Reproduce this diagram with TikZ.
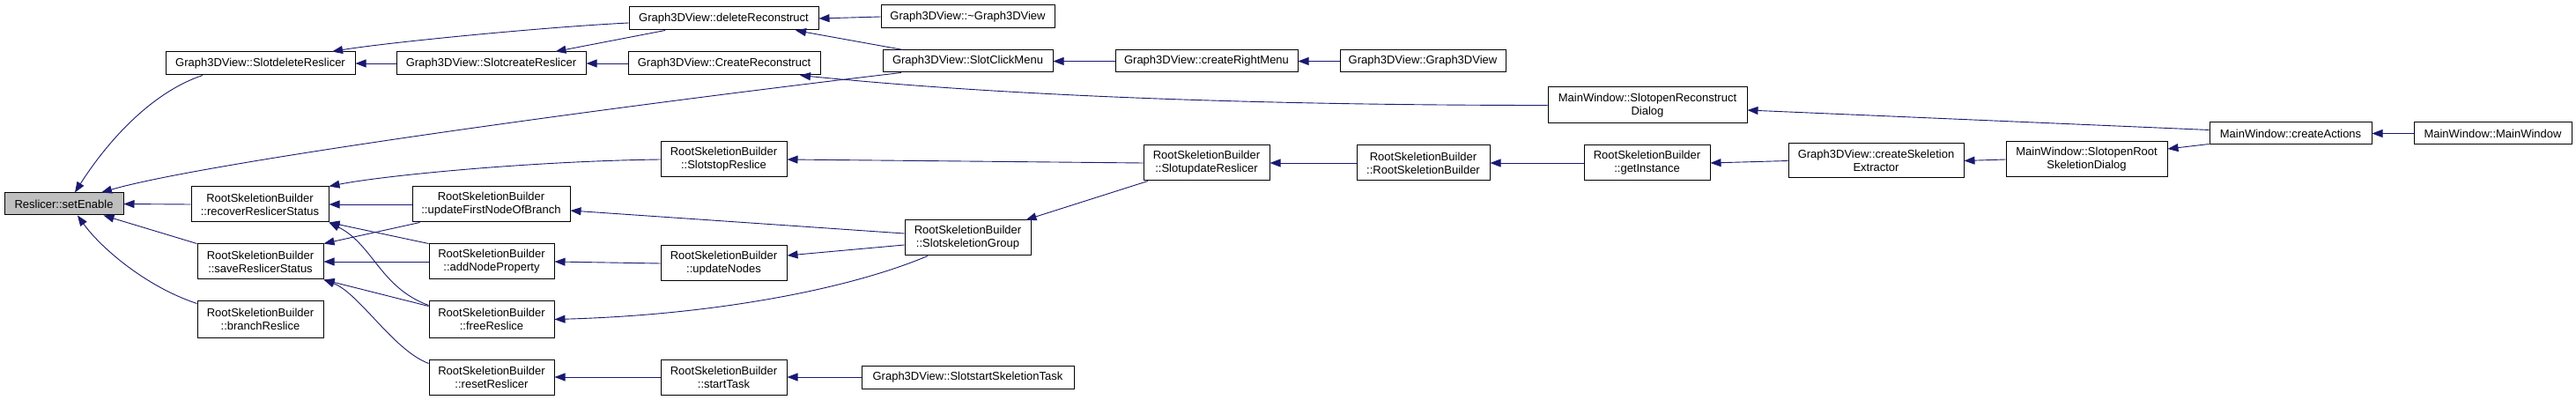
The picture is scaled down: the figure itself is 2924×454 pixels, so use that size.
\documentclass[tikz,border=0pt]{standalone}
\usepackage{fontspec}
\setmainfont{Liberation Sans}
\usetikzlibrary{arrows.meta,calc}
\definecolor{callblue}{RGB}{25,25,112}
\definecolor{rootgray}{RGB}{191,191,191}

\begin{document}
\begin{tikzpicture}[x=1pt,y=-1pt,
  fn/.style={draw=black,fill=white,line width=1pt,inner sep=0pt,align=center,
    font=\fontsize{13}{15}\selectfont},
  call/.style={draw=callblue,line width=0.9pt,{Triangle[length=12pt,width=9pt]}-}]
  \useasboundingbox (0,0) rectangle (2924,454);
  % the function itself
  \node[fn,fill=rootgray,minimum width=135,minimum height=25] (setEnable) at (72.5,231.5) {Reslicer::setEnable};
  % callers: name/centre x/centre y/width/height/label
  \foreach \nm/\cx/\cy/\bw/\bh/\txt in {
    slotDel/295.5/72/215/26/{Graph3DView::SlotdeleteReslicer},
    recover/295/232/156/40/{RootSkeletionBuilder\\::recoverReslicerStatus},
    save/295.5/297/143/40/{RootSkeletionBuilder\\::saveReslicerStatus},
    branch/295.5/362.5/143/41/{RootSkeletionBuilder\\::branchReslice},
    slotCreate/557.5/72/215/26/{Graph3DView::SlotcreateReslicer},
    updFirst/557.5/232/179/40/{RootSkeletionBuilder\\::updateFirstNodeOfBranch},
    addNode/558/297/142/40/{RootSkeletionBuilder\\::addNodeProperty},
    freeRes/558/362.5/142/41/{RootSkeletionBuilder\\::freeReslice},
    resetRes/558/428/142/40/{RootSkeletionBuilder\\::resetReslicer},
    delRecon/821.5/21/215/26/{Graph3DView::deleteReconstruct},
    createRecon/822/72/218/26/{Graph3DView::CreateReconstruct},
    stopRes/821.5/181/143/40/{RootSkeletionBuilder\\::SlotstopReslice},
    updNodes/821.5/299/143/40/{RootSkeletionBuilder\\::updateNodes},
    startTask/821.5/428/143/40/{RootSkeletionBuilder\\::startTask},
    dtor/1098.5/19/197/26/{Graph3DView::\textasciitilde Graph3DView},
    clickMenu/1098.5/69.5/193/25/{Graph3DView::SlotClickMenu},
    skelGroup/1098.5/270/143/40/{RootSkeletionBuilder\\::SlotskeletionGroup},
    slotStart/1098.5/428/241/26/{Graph3DView::SlotstartSkeletionTask},
    rightMenu/1369.5/69.5/207/25/{Graph3DView::createRightMenu},
    updRes/1369.5/185/143/40/{RootSkeletionBuilder\\::SlotupdateReslicer},
    viewCtor/1615/69.5/188/25/{Graph3DView::Graph3DView},
    rsbCtor/1615.5/185/151/40/{RootSkeletionBuilder\\::RootSkeletionBuilder},
    openRecon/1870/119.5/226/41/{MainWindow::SlotopenReconstruct\\Dialog},
    getInst/1869.5/185/143/40/{RootSkeletionBuilder\\::getInstance},
    extractor/2129.5/182.5/199/39/{Graph3DView::createSkeletion\\Extractor},
    openRoot/2368.5/181/183/40/{MainWindow::SlotopenRoot\\SkeletionDialog},
    actions/2600/151.5/184/25/{MainWindow::createActions},
    mainWin/2829.5/151.5/179/25/{MainWindow::MainWindow}}{
    \node[fn,minimum width=\bw,minimum height=\bh] (\nm) at (\cx,\cy) {\txt};
  }
  % into Reslicer::setEnable
  \draw[call] ([xshift=12.5pt]setEnable.north) .. controls +(35,-55) and +(-60,20) .. ([xshift=-65.5pt]slotDel.south);
  \draw[call] ([xshift=42.5pt]setEnable.north) .. controls +(120,-35) and +(-300,35) .. ([xshift=-75.5pt]clickMenu.south);
  \draw[call] (setEnable.east) -- (recover.west);
  \draw[call] ([xshift=45pt]setEnable.south) -- (save.north west);
  \draw[call] ([xshift=15.5pt]setEnable.south) .. controls +(25,35) and +(-60,-20) .. ([yshift=-3pt]branch.north west);
  % second rank
  \draw[call] (slotDel.east) -- (slotCreate.west);
  \draw[call] ([xshift=81.5pt]slotDel.north) .. controls +(60,-10) and +(-100,5) .. ([yshift=-5pt]delRecon.west);
  \draw[call] (recover.north east) .. controls +(60,-12) and +(-150,2) .. (stopRes.west);
  \draw[call] (recover.east) -- (updFirst.west);
  \draw[call] (recover.south east) -- (addNode.north west);
  \draw[call] (recover.south east) .. controls +(50,25) and +(-55,-20) .. ([yshift=-5pt]freeRes.north west);
  \draw[call] (save.north east) -- ([xshift=9pt]updFirst.south west);
  \draw[call] (save.east) -- (addNode.west);
  \draw[call] (save.south east) -- ([yshift=-6pt]freeRes.north west);
  \draw[call] (save.south east) .. controls +(40,15) and +(-40,-15) .. ([yshift=-5pt]resetRes.north west);
  % third rank
  \draw[call] (slotCreate.east) -- (createRecon.west);
  \draw[call] ([xshift=73pt]slotCreate.north) -- ([xshift=-66.5pt]delRecon.south);
  \draw[call] ([yshift=-7pt]updFirst.east) -- ([yshift=5pt]skelGroup.west);
  \draw[call] (addNode.east) -- (updNodes.west);
  \draw[call] (freeRes.east) .. controls +(180,-5) and +(-90,38) .. ([xshift=-45.5pt]skelGroup.south);
  \draw[call] (resetRes.east) -- (startTask.west);
  % fourth rank
  \draw[call] (delRecon.east) -- (dtor.west);
  \draw[call] ([xshift=81.5pt]delRecon.south) -- ([xshift=-73.5pt]clickMenu.north);
  \draw[call] ([xshift=86pt]createRecon.south) .. controls +(250,25) and +(-300,0) .. (openRecon.west);
  \draw[call] (stopRes.east) -- (updRes.west);
  \draw[call] ([yshift=9pt]updNodes.east) -- ([yshift=-8pt]skelGroup.west);
  \draw[call] (startTask.east) -- (slotStart.west);
  % the rest of the chain
  \draw[call] (clickMenu.east) -- (rightMenu.west);
  \draw[call] ([xshift=66pt]skelGroup.north) -- ([xshift=-66.5pt]updRes.south);
  \draw[call] (rightMenu.east) -- (viewCtor.west);
  \draw[call] (updRes.east) -- (rsbCtor.west);
  \draw[call] (rsbCtor.east) -- (getInst.west);
  \draw[call] (getInst.east) -- (extractor.west);
  \draw[call] (extractor.east) -- (openRoot.west);
  \draw[call] ([yshift=12pt]openRoot.east) -- ([yshift=1pt]actions.south west);
  \draw[call] ([yshift=-5.5pt]openRecon.east) -- ([yshift=4pt]actions.west);
  \draw[call] (actions.east) -- (mainWin.west);
\end{tikzpicture}
\end{document}
